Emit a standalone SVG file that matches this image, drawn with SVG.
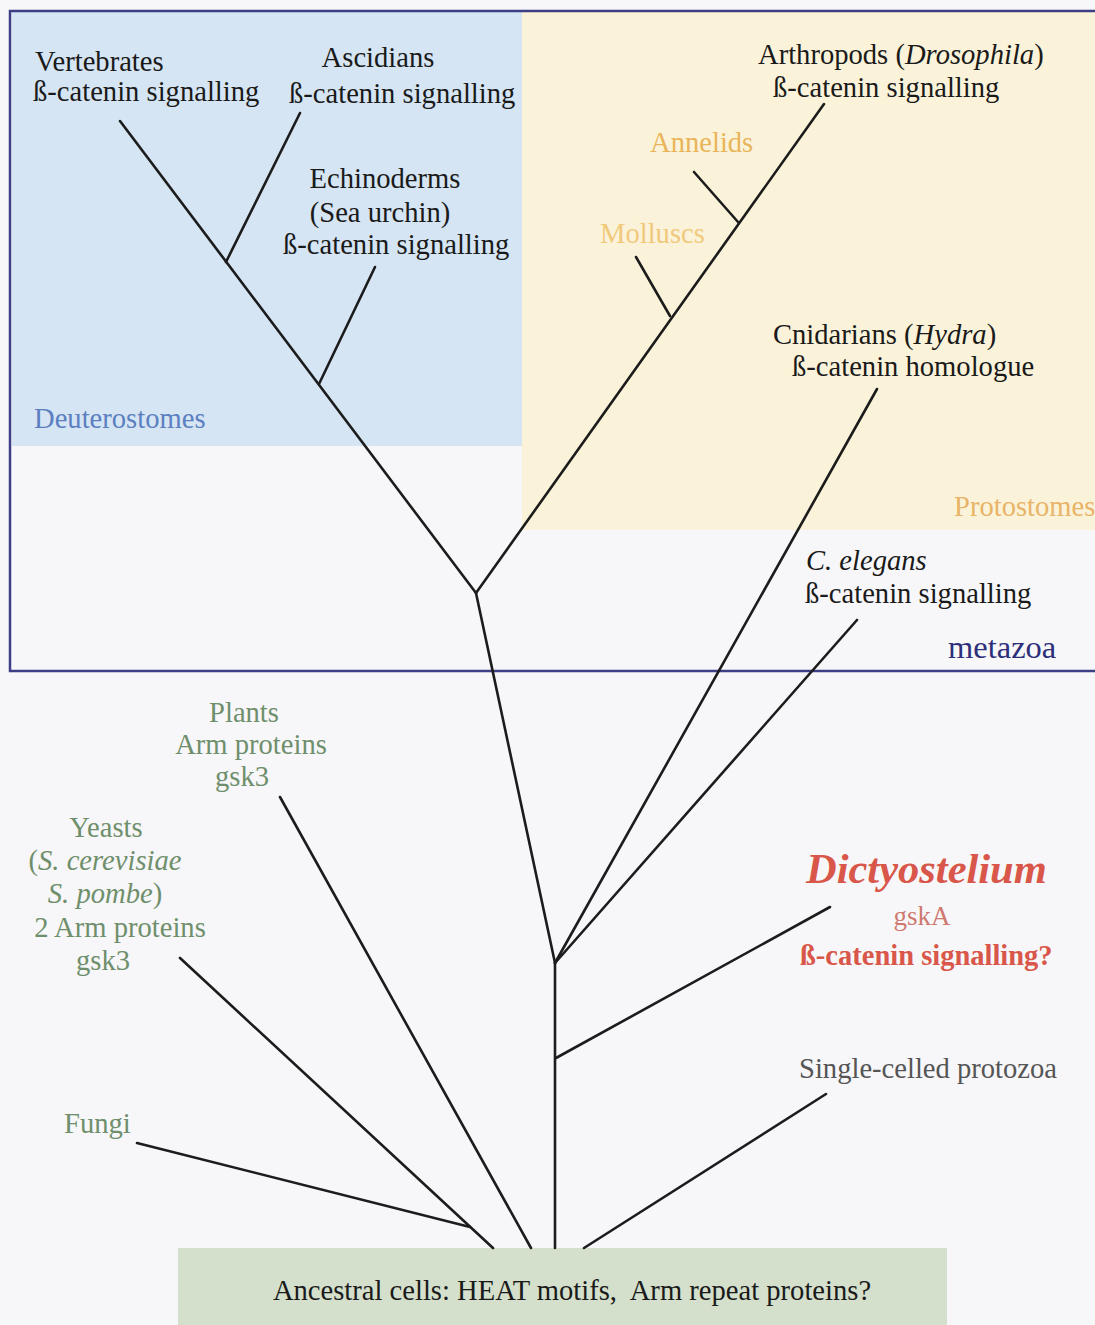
<svg xmlns="http://www.w3.org/2000/svg" width="1095" height="1325" viewBox="0 0 1095 1325">
<style>
text{font-family:"Liberation Serif","Times New Roman",serif;font-size:28.6px;fill:#1a1a1a}
.c{text-anchor:middle}
.grn{fill:#6f8f6c}
.br{stroke:#1c1c1c;stroke-width:2.6;fill:none;stroke-linecap:round}
</style>
<rect x="0" y="0" width="1095" height="1325" fill="#f7f7f9"/>
<g id="regions">
<rect x="12" y="12" width="510" height="434" fill="#d5e5f3"/>
<rect x="522" y="12" width="575" height="518" fill="#fbf3d9"/>
<rect x="10" y="11" width="1100" height="660" fill="none" stroke="#3c3f86" stroke-width="2.5"/>
<rect x="178" y="1248" width="769" height="77" fill="#d4e0cc"/>
</g>
<g id="connectors" class="br">
<line x1="120" y1="121" x2="476" y2="593"/>
<line x1="300" y1="113" x2="226" y2="262"/>
<line x1="375" y1="267" x2="319" y2="384"/>
<line x1="824" y1="104" x2="476" y2="593"/>
<line x1="694" y1="172" x2="738" y2="222"/>
<line x1="636" y1="257" x2="670" y2="316"/>
<line x1="476" y1="593" x2="555" y2="963"/>
<line x1="877" y1="389" x2="555" y2="963"/>
<line x1="857" y1="620" x2="555" y2="963"/>
<line x1="555" y1="963" x2="555" y2="1248"/>
<line x1="830" y1="907" x2="556" y2="1058"/>
<line x1="826" y1="1094" x2="584" y2="1248"/>
<line x1="280" y1="797" x2="531" y2="1248"/>
<line x1="180" y1="958" x2="493" y2="1248"/>
<line x1="137" y1="1143" x2="470" y2="1227"/>
</g>
<g id="vertebrates"><text x="35" y="71">Vertebrates</text><text x="33" y="101">ß-catenin signalling</text></g>
<g id="ascidians"><text class="c" x="378" y="67">Ascidians</text><text x="289" y="103">ß-catenin signalling</text></g>
<g id="echinoderms"><text class="c" x="385" y="188">Echinoderms</text><text class="c" x="380" y="222">(Sea urchin)</text><text x="283" y="254">ß-catenin signalling</text></g>
<g id="deuterostomes"><text x="34" y="428" style="fill:#5b7fc0">Deuterostomes</text></g>
<g id="arthropods"><text x="758" y="64">Arthropods (<tspan font-style="italic">Drosophila</tspan>)</text><text x="773" y="97">ß-catenin signalling</text></g>
<g id="annelids"><text x="650" y="152" style="fill:#e9b55a">Annelids</text></g>
<g id="molluscs"><text x="600" y="243" style="fill:#f0c97c">Molluscs</text></g>
<g id="cnidarians"><text x="773" y="344">Cnidarians (<tspan font-style="italic">Hydra</tspan>)</text><text x="792" y="376">ß-catenin homologue</text></g>
<g id="protostomes"><text x="954" y="516" style="fill:#e8b468">Protostomes</text></g>
<g id="celegans"><text x="806" y="570" font-style="italic">C. elegans</text><text x="805" y="603">ß-catenin signalling</text></g>
<g id="metazoa"><text x="948" y="658" style="fill:#2d2f7a;font-size:32.5px">metazoa</text></g>
<g id="plants"><text class="c grn" x="244" y="722">Plants</text><text class="c grn" x="251" y="754">Arm proteins</text><text class="c grn" x="242" y="786">gsk3</text></g>
<g id="yeasts"><text class="c grn" x="106" y="837">Yeasts</text><text class="c grn" x="105" y="870">(<tspan font-style="italic">S. cerevisiae</tspan></text><text class="c grn" x="105" y="903"><tspan font-style="italic">S. pombe</tspan>)</text><text class="c grn" x="120" y="937">2 Arm proteins</text><text class="c grn" x="103" y="970">gsk3</text></g>
<g id="fungi"><text class="grn" x="64" y="1133">Fungi</text></g>
<g id="dictyostelium"><text x="806" y="883" style="fill:#d9574a;font-size:42.5px;font-weight:bold;font-style:italic">Dictyostelium</text><text class="c" x="922" y="925" style="fill:#cf7a70;font-size:27px">gskA</text><text x="800" y="965" style="fill:#d9574a;font-weight:bold;font-size:28.5px">ß-catenin signalling?</text></g>
<g id="protozoa"><text x="799" y="1078" style="fill:#555">Single-celled protozoa</text></g>
<g id="ancestral"><text class="c" x="572" y="1300" xml:space="preserve">Ancestral cells: HEAT motifs,  Arm repeat proteins?</text></g>
</svg>
